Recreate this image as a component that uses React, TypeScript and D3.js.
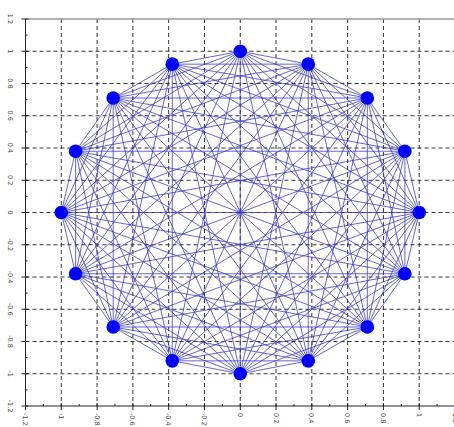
import React from "react";
import * as d3 from "d3";

const nodeX = [1, 0.92, 0.71, 0.38, 0, -0.38, -0.71, -0.92, -1, -0.92, -0.71, -0.38, 0, 0.38, 0.71, 0.92];
const nodeY = [0, 0.38, 0.71, 0.92, 1, 0.92, 0.71, 0.38, 0, -0.38, -0.71, -0.92, -1, -0.92, -0.71, -0.38];
const majorTicks = [-1.2, -1, -0.8, -0.6, -0.4, -0.2, 0, 0.2, 0.4, 0.6, 0.8, 1, 1.2];
const minorTicks = [-1.1, -0.9, -0.7, -0.5, -0.3, -0.1, 0.1, 0.3, 0.5, 0.7, 0.9, 1.1];
const tickLabels = ["-1.2", "-1", "-0.8", "-0.6", "-0.4", "-0.2", "0", "0.2", "0.4", "0.6", "0.8", "1", "1.2"];

const W = 454;
const H = 427;

export default function App() {
  const x = d3.scaleLinear().domain([-1.2, 1.2]).range([25.5, 455]);
  const y = d3.scaleLinear().domain([-1.2, 1.2]).range([406, 19]);

  const edges: [number, number][] = [];
  for (let i = 0; i < nodeX.length; i++)
    for (let j = i + 1; j < nodeX.length; j++) edges.push([i, j]);

  const gridVals = majorTicks.filter((v) => Math.abs(v) < 1.15);

  return (
    <div style={{ position: "absolute", left: 0, top: 0 }}>
      <svg width={W} height={H} style={{ display: "block", background: "#fff" }}>
        <g stroke="#333" strokeWidth={1} strokeDasharray="4,3">
          {gridVals.map((v, i) => (
            <line key={"gx" + i} x1={x(v)} x2={x(v)} y1={y(1.2)} y2={y(-1.2)} />
          ))}
          {gridVals.map((v, i) => (
            <line key={"gy" + i} x1={x(-1.2)} x2={x(1.2)} y1={y(v)} y2={y(v)} />
          ))}
        </g>
        <line x1={x(-1.2)} x2={W} y1={y(1.2)} y2={y(1.2)} stroke="#999" strokeWidth={1.5} />
        <g stroke="#3535cc" strokeWidth={0.85} strokeOpacity={0.9}>
          {edges.map(([a, b], i) => (
            <line key={"e" + i} x1={x(nodeX[a])} y1={y(nodeY[a])} x2={x(nodeX[b])} y2={y(nodeY[b])} />
          ))}
        </g>
        <g fill="#0000ff">
          {nodeX.map((v, i) => (
            <circle key={"n" + i} cx={x(v)} cy={y(nodeY[i])} r={6.8} />
          ))}
        </g>
        <g stroke="#222" strokeWidth={1}>
          <line x1={x(-1.2)} x2={x(-1.2)} y1={y(1.2)} y2={y(-1.2)} />
          <line x1={x(-1.2)} x2={W} y1={y(-1.2)} y2={y(-1.2)} />
          {majorTicks.map((v, i) => (
            <line key={"mx" + i} x1={x(v)} x2={x(v)} y1={y(-1.2) - 3} y2={y(-1.2) + 4} />
          ))}
          {majorTicks.map((v, i) => (
            <line key={"my" + i} x1={x(-1.2) - 4} x2={x(-1.2) + 3} y1={y(v)} y2={y(v)} />
          ))}
          {minorTicks.map((v, i) => (
            <line key={"nx" + i} x1={x(v)} x2={x(v)} y1={y(-1.2) - 2} y2={y(-1.2)} />
          ))}
          {minorTicks.map((v, i) => (
            <line key={"ny" + i} x1={x(-1.2)} x2={x(-1.2) + 2} y1={y(v)} y2={y(v)} />
          ))}
        </g>
        <g fontFamily="DejaVu Sans, sans-serif" fontSize={6.5} fill="#444">
          {majorTicks.map((v, i) => (
            <text key={"lx" + i} transform={`translate(${x(v) - 2.5},${y(-1.2) + 7}) rotate(90)`} textAnchor="start">
              {tickLabels[i]}
            </text>
          ))}
          {majorTicks.map((v, i) => (
            <text key={"ly" + i} transform={`translate(${x(-1.2) - 18},${y(v)}) rotate(90)`} textAnchor="middle">
              {tickLabels[i]}
            </text>
          ))}
        </g>
      </svg>
    </div>
  );
}
